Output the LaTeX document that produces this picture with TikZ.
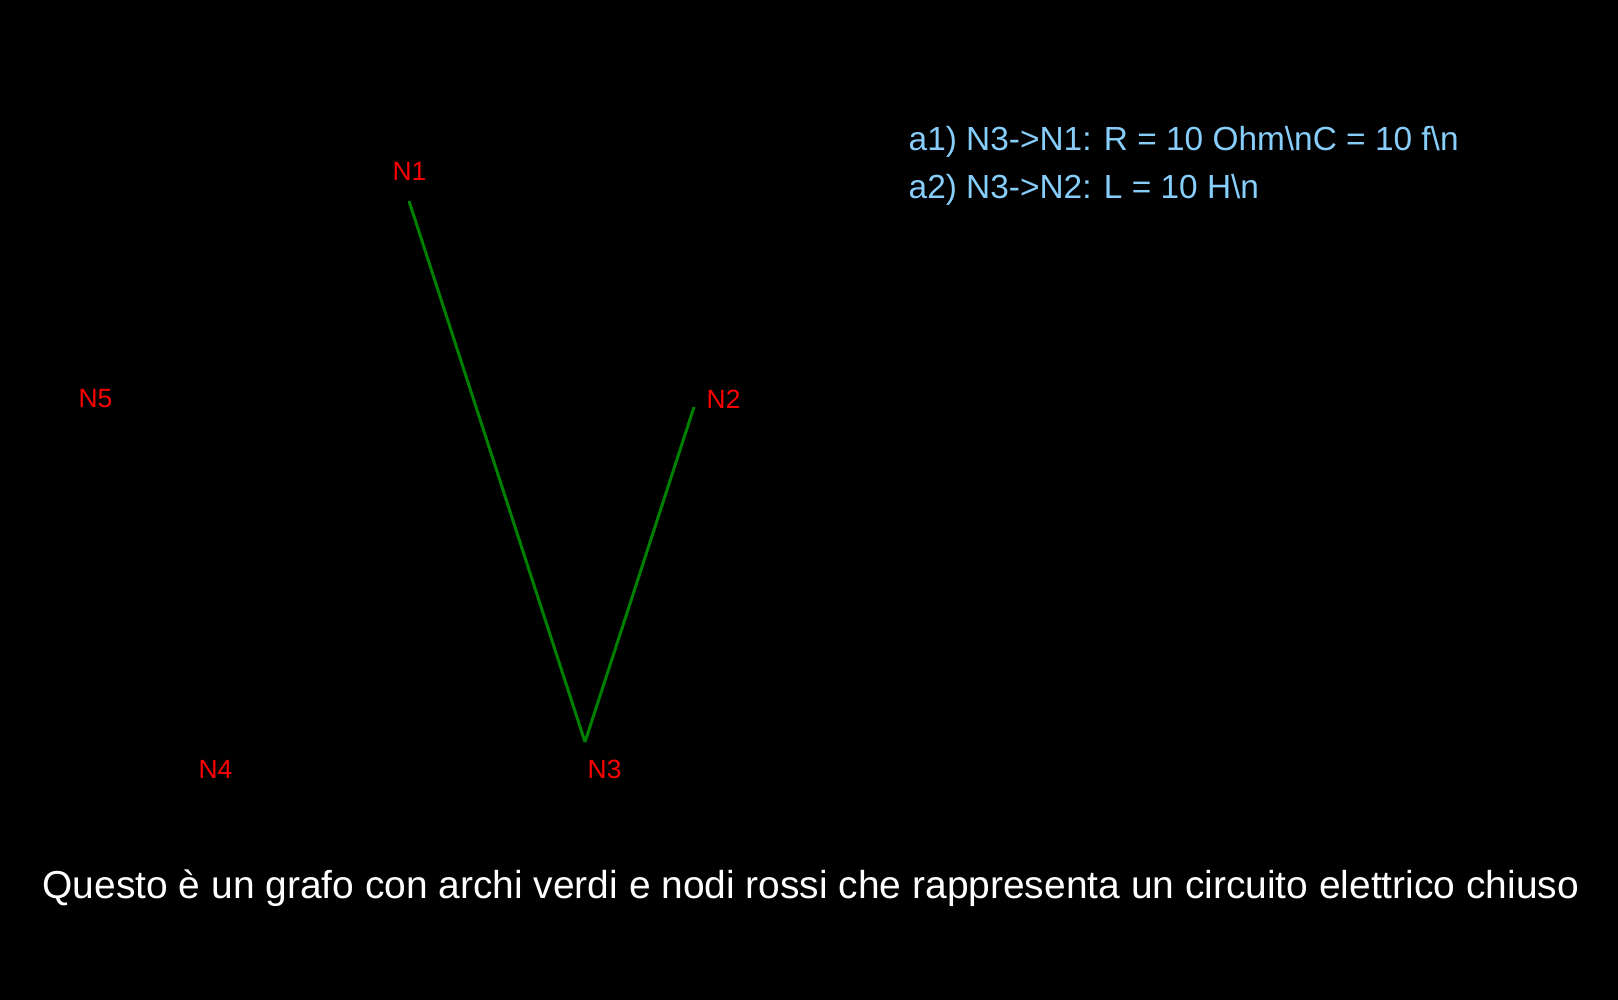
\documentclass[tikz,border=0pt]{standalone}
\usepackage{fontspec}
\setmainfont{Liberation Sans}
\usepackage{tikz}
\definecolor{arcoverde}{RGB}{0,128,0}
\definecolor{testoblu}{RGB}{135,206,250}
\tikzset{
    nodo/.style={anchor=base west, inner sep=0pt, text=red,
    	font=\fontsize{7.5pt}{9pt}\selectfont},
    arco/.style={draw=arcoverde, line width=0.85pt},
    nota/.style={anchor=base west, inner sep=0pt, text=testoblu,
    	font=\fontsize{9.5pt}{11pt}\selectfont},
    didascalia/.style={anchor=base west, inner sep=0pt, text=white,
    	font=\fontsize{11.07pt}{13pt}\selectfont}
}

\begin{document}
\begin{tikzpicture}[x=0.01cm, y=-0.01cm]
  \fill[black] (0,0) rectangle (1618,1000);
  \useasboundingbox (0,0) rectangle (1618,1000);

  \coordinate (p1) at (409,201);
  \coordinate (p2) at (694,407);
  \coordinate (p3) at (585,742);

  \node (N1) [nodo] at (392,180) {N1};
  \node (N2) [nodo] at (706,408) {N2};
  \node (N3) [nodo] at (587,778) {N3};
  \node (N4) [nodo] at (198,778) {N4};
  \node (N5) [nodo] at (78,407) {N5};

  \node (a1) [nota] at (908,150) {a1) N3->N1: R = 10 Ohm\textbackslash nC = 10 f\textbackslash n};
  \node (a2) [nota] at (908,198) {a2) N3->N2: L = 10 H\textbackslash n};

  \node (titolo) [didascalia] at (42,898) {Questo è un grafo con archi verdi e nodi rossi che rappresenta un circuito elettrico chiuso};

  \draw [arco] (p3) -- (p1);
  \draw [arco] (p3) -- (p2);
\end{tikzpicture}
\end{document}
